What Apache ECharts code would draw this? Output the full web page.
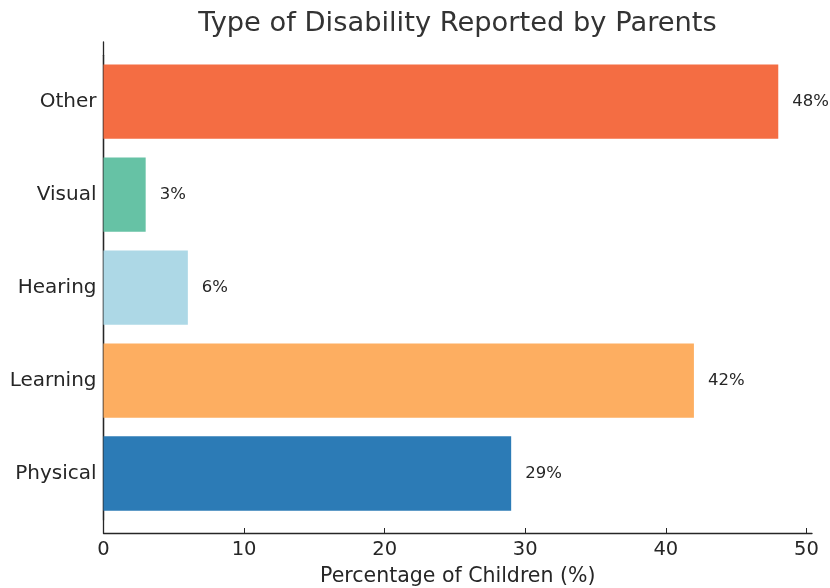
<!DOCTYPE html>
<html>
<head>
<meta charset="utf-8">
<script src="https://cdn.jsdelivr.net/npm/echarts@6/dist/echarts.min.js"></script>
<style>
html,body{margin:0;padding:0;background:#fff;}
#chart{width:830px;height:588px;}
</style>
</head>
<body>
<div id="chart"></div>
<script>
const categories = ['Physical', 'Learning', 'Hearing', 'Visual', 'Other'];
const values = [29, 42, 6, 3, 48];
const xTicks = [0, 10, 20, 30, 40, 50];
const palette = ['#2c7bb6', '#fdae61', '#add8e6', '#66c2a5', '#f46d43'];

const FONT = 'DejaVu Sans';
const TXT = '#262626';
const chart = echarts.init(document.getElementById('chart'), null, {renderer: 'canvas'});
const L = 103.5, R = 18;
chart.setOption({
  animation: false,
  backgroundColor: '#fff',
  title: {
    text: 'Type of Disability Reported by Parents',
    left: 452.5, top: 5, textAlign: 'center',
    textStyle: {fontFamily: FONT, fontSize: 27.3, fontWeight: 'normal', color: '#333'}
  },
  grid: [
    {left: L, right: R, top: 42, bottom: 55, containLabel: false, outerBoundsMode: 'none'},
    {left: L, right: R, top: 55.2, bottom: 68, containLabel: false, outerBoundsMode: 'none'}
  ],
  xAxis: [
    {
      gridIndex: 0, type: 'value', min: 0, max: 50.4,
      name: 'Percentage of Children (%)', nameLocation: 'middle', nameGap: 33,
      nameTextStyle: {fontFamily: FONT, fontSize: 20.5, color: TXT},
      axisLine: {show: true, lineStyle: {color: '#262626', width: 1.3}},
      axisTick: {show: true, inside: true, length: 5, customValues: xTicks, lineStyle: {color: '#262626', width: 1}},
      axisLabel: {customValues: xTicks, fontFamily: FONT, fontSize: 19.5, color: TXT, margin: 7},
      splitLine: {show: false}
    },
    {
      gridIndex: 1, type: 'value', min: 0, max: 50.4, show: false
    }
  ],
  yAxis: [
    {
      gridIndex: 0, type: 'value', min: 0, max: 1,
      axisLine: {show: true, lineStyle: {color: '#262626', width: 1.3}},
      axisTick: {show: false}, axisLabel: {show: false}, splitLine: {show: false}
    },
    {
      gridIndex: 1, type: 'category', data: categories,
      axisLine: {show: true, lineStyle: {color: '#262626', width: 1.3}},
      axisTick: {show: true, inside: true, length: 5, alignWithLabel: true, lineStyle: {color: '#262626', width: 1}},
      axisLabel: {fontFamily: FONT, fontSize: 20, color: TXT, margin: 7, padding: [5, 0, 0, 0]},
      splitLine: {show: false}
    }
  ],
  series: [{
    type: 'bar', xAxisIndex: 1, yAxisIndex: 1,
    barCategoryGap: '20%',
    data: values.map((v, i) => ({value: v, itemStyle: {color: palette[i]}})),
    label: {
      show: true, position: 'right', distance: 14,
      formatter: p => p.value + '%',
      fontFamily: FONT, fontSize: 16.5, color: TXT
    }
  }]
});
</script>
</body>
</html>
